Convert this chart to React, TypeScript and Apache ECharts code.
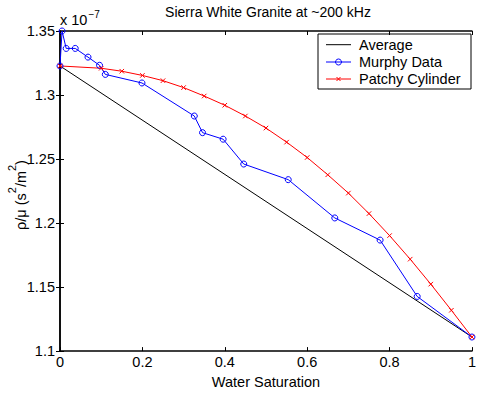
import { useEffect, useRef } from 'react';
import * as echarts from 'echarts';

// Water saturation (x) and rho/mu in units of 1e-7 s^2/m^2 (y)
const averageX = [0, 1];
const averageY = [1.3227, 1.111];

const murphyX = [0, 0.005, 0.015, 0.037, 0.068, 0.096, 0.11, 0.199, 0.326, 0.346, 0.396, 0.446, 0.554, 0.667, 0.777, 0.867, 1];
const murphyY = [1.3227, 1.35, 1.3364, 1.3364, 1.3296, 1.3232, 1.3161, 1.3094, 1.2836, 1.2706, 1.2655, 1.2461, 1.2339, 1.204, 1.1867, 1.1427, 1.111];

const patchyX = [0, 0.1, 0.15, 0.2, 0.25, 0.3, 0.35, 0.4, 0.45, 0.5, 0.55, 0.6, 0.65, 0.7, 0.75, 0.8, 0.85, 0.9, 0.95, 1];
const patchyY = [1.3227, 1.3209, 1.3186, 1.3153, 1.3112, 1.3058, 1.2992, 1.292, 1.2836, 1.2742, 1.2632, 1.2512, 1.2377, 1.2234, 1.2074, 1.1902, 1.1718, 1.1523, 1.1319, 1.111];

const seriesNames = ['Average', 'Murphy Data', 'Patchy Cylinder'];
const seriesColors = ['#000000', '#0000ff', '#ff0000'];
const titleText = 'Sierra White Granite at ~200 kHz';
const xLabel = 'Water Saturation';

const zip = (xs: number[], ys: number[]) => xs.map((x, i) => [x, ys[i]]);

export default function App() {
  const ref = useRef<HTMLDivElement>(null);

  useEffect(() => {
    if (!ref.current) return;
    const chart = echarts.init(ref.current, null, { renderer: 'svg' });
    const FONT = '"Liberation Sans", Arial, Helvetica, sans-serif';
    const FS = 14.5;

    const axisLine = { show: true, lineStyle: { color: '#000', width: 1.5 } };
    const axisTick = { show: true, inside: true, length: 4, lineStyle: { color: '#000', width: 1 } };
    const xCommon = { type: 'value', min: 0, max: 1, interval: 0.2, splitLine: { show: false }, axisLine, axisTick };
    const yCommon = { type: 'value', min: 1.1, max: 1.35, interval: 0.05, splitLine: { show: false }, axisLine, axisTick };

    // Boxed legend drawn as graphic elements
    const lgLeft = 318;
    const lgTop = 34;
    const lgRows = [44.7, 62, 79];
    const legendChildren: any[] = [
      {
        type: 'rect',
        shape: { x: lgLeft, y: lgTop, width: 153, height: 55 },
        style: { fill: '#fff', stroke: '#000', lineWidth: 1 },
      },
    ];
    seriesNames.forEach((name, i) => {
      const y = lgRows[i];
      legendChildren.push({
        type: 'line',
        shape: { x1: 326, y1: y, x2: 351, y2: y },
        style: { stroke: seriesColors[i], lineWidth: 1 },
      });
      if (i === 1) {
        legendChildren.push({
          type: 'circle',
          shape: { cx: 338.5, cy: y, r: 3 },
          style: { fill: 'none', stroke: seriesColors[i], lineWidth: 1 },
        });
      }
      if (i === 2) {
        legendChildren.push(
          { type: 'line', shape: { x1: 336.5, y1: y - 2, x2: 340.5, y2: y + 2 }, style: { stroke: seriesColors[i], lineWidth: 1 } },
          { type: 'line', shape: { x1: 336.5, y1: y + 2, x2: 340.5, y2: y - 2 }, style: { stroke: seriesColors[i], lineWidth: 1 } }
        );
      }
      legendChildren.push({
        type: 'text',
        x: 359,
        y,
        style: { text: name, fill: '#000', font: `${FS}px ${FONT}`, align: 'left', verticalAlign: 'middle' },
      });
    });

    chart.setOption({
      animation: false,
      backgroundColor: '#fff',
      grid: { left: 60, right: 3.5, top: 31, bottom: 36 },
      xAxis: [
        {
          ...xCommon,
          position: 'bottom',
          axisLabel: { color: '#000', fontSize: FS, fontFamily: FONT, margin: 3 },
          name: xLabel,
          nameLocation: 'middle',
          nameGap: 17,
          nameTextStyle: { color: '#000', fontSize: FS, fontFamily: FONT },
        },
        { ...xCommon, position: 'top', axisLabel: { show: false } },
      ],
      yAxis: [
        {
          ...yCommon,
          position: 'left',
          axisLabel: {
            color: '#000',
            fontSize: FS,
            fontFamily: FONT,
            margin: 5,
            formatter: (v: number) => String(parseFloat(v.toFixed(2))),
          },
        },
        { ...yCommon, position: 'right', axisLabel: { show: false } },
      ],
      graphic: [
        {
          type: 'text',
          x: 268,
          y: 12,
          style: { text: titleText, fill: '#000', font: `14px ${FONT}`, align: 'center', verticalAlign: 'middle' },
        },
        {
          type: 'text',
          x: 60,
          y: 20,
          style: {
            text: 'x 10{sup|−7}',
            fill: '#000',
            font: `${FS}px ${FONT}`,
            align: 'left',
            verticalAlign: 'middle',
            rich: {
              sup: { fontSize: 10, fontFamily: FONT, fill: '#000', padding: [0, 0, 12, 1] },
            },
          },
        },
        {
          type: 'text',
          x: 17,
          y: 195,
          rotation: Math.PI / 2,
          style: {
            text: '{b|ρ/μ (s}{sup|2}{b|/m}{sup|2}{b|)}',
            fill: '#000',
            align: 'center',
            verticalAlign: 'middle',
            rich: {
              b: { fontSize: FS, fontFamily: FONT, fill: '#000', lineHeight: 22, verticalAlign: 'bottom' },
              sup: { fontSize: 11, fontFamily: FONT, fill: '#000', lineHeight: 22, verticalAlign: 'top' },
            },
          },
        },
        { type: 'group', z: 100, children: legendChildren },
      ],
      series: [
        {
          name: seriesNames[0],
          type: 'line',
          data: zip(averageX, averageY),
          symbol: 'none',
          lineStyle: { color: seriesColors[0], width: 1 },
          itemStyle: { color: seriesColors[0] },
        },
        {
          name: seriesNames[1],
          type: 'line',
          data: zip(murphyX, murphyY),
          symbol: 'circle',
          symbolSize: 6,
          clip: false,
          lineStyle: { color: seriesColors[1], width: 1 },
          itemStyle: { color: 'none', borderColor: seriesColors[1], borderWidth: 1 },
        },
        {
          name: seriesNames[2],
          type: 'line',
          data: zip(patchyX, patchyY),
          symbol: 'path://M0,0L10,10M10,0L0,10',
          symbolSize: 4.5,
          clip: false,
          lineStyle: { color: seriesColors[2], width: 1 },
          itemStyle: { color: 'none', borderColor: seriesColors[2], borderWidth: 1 },
        },
      ],
    });

    return () => chart.dispose();
  }, []);

  return (
    <div
      ref={ref}
      style={{ position: 'absolute', left: 0, top: 0, width: 479, height: 394 }}
    />
  );
}
